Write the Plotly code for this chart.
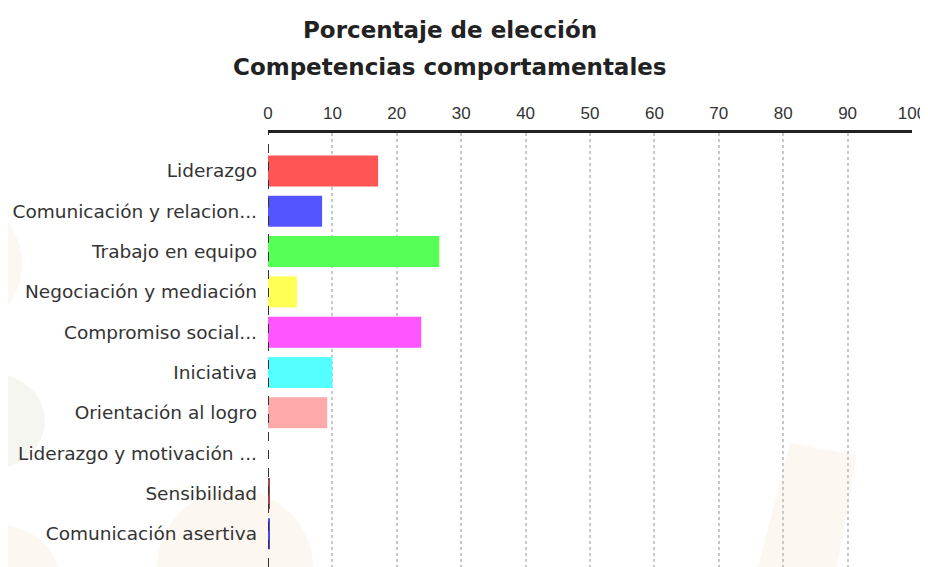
import plotly.graph_objects as go

categories = [
    "Liderazgo",
    "Comunicación y relacion...",
    "Trabajo en equipo",
    "Negociación y mediación",
    "Compromiso social...",
    "Iniciativa",
    "Orientación al logro",
    "Liderazgo y motivación ...",
    "Sensibilidad",
    "Comunicación asertiva",
]
values = [17.1, 8.4, 26.6, 4.5, 23.8, 10.0, 9.2, 0.0, 0.25, 0.3]
colors = ["#FF5555", "#5555FF", "#55FF55", "#FFFF55", "#FF55FF",
          "#55FFFF", "#FFAAAA", "#AAAAAA", "#A04848", "#4848F0"]
x_ticks = list(range(0, 101, 10))
title_lines = ["Porcentaje de elección", "Competencias comportamentales"]

# the page body has an 8px margin, so the figure starts at (8, 8)
OFF = 8
W, H = 920, 559
PL, PR, PT = 268, 912, 133               # plot area in window pixels
PB = OFF + H
ML, MR, MT, MB = PL - OFF, OFF + W - PR, PT - OFF, 0
PW, PH = PR - PL, PB - PT
BAND = 40.3                              # pixels per category
FIRST = 171                              # centre of first category (px)
y_top = -(FIRST - PT) / BAND
y_bot = (PB - FIRST) / BAND


def px(x):
    return (x - PL) / PW


def py(y):
    return (PB - y) / PH


fig = go.Figure(go.Bar(
    x=values, y=categories, orientation="h",
    marker=dict(color=colors, line=dict(width=0)),
    width=0.77,
))

beige = "rgba(250,232,214,0.35)"
greenish = "rgba(228,230,214,0.35)"
shapes = [
    dict(type="circle", xref="paper", yref="paper",
         x0=px(-110), x1=px(22), y0=py(332), y1=py(196),
         fillcolor=beige, line=dict(width=0), layer="below"),
    dict(type="circle", xref="paper", yref="paper",
         x0=px(-70), x1=px(45), y0=py(470), y1=py(372),
         fillcolor=greenish, line=dict(width=0), layer="below"),
    dict(type="circle", xref="paper", yref="paper",
         x0=px(157), x1=px(313), y0=py(646), y1=py(490),
         fillcolor=beige, line=dict(width=0), layer="below"),
    dict(type="circle", xref="paper", yref="paper",
         x0=px(-60), x1=px(60), y0=py(640), y1=py(525),
         fillcolor=beige, line=dict(width=0), layer="below"),
    dict(type="path", xref="paper", yref="paper",
         path=f"M {px(790)} {py(443)} L {px(857)} {py(455)} "
              f"L {px(837)} {py(567)} L {px(758)} {py(567)} Z",
         fillcolor=beige, line=dict(width=0), layer="below"),
    # dashed zero line on the left
    dict(type="line", xref="x", yref="paper", x0=0, x1=0, y0=0, y1=1,
         line=dict(color="#333333", width=2, dash="dash"), layer="above"),
]

annotations = [
    dict(text=title_lines[0], xref="paper", yref="paper",
         x=px(450), y=py(30), xanchor="center", yanchor="middle",
         showarrow=False,
         font=dict(family="DejaVu Sans", size=23, color="#222222", weight="bold")),
    dict(text=title_lines[1], xref="paper", yref="paper",
         x=px(450), y=py(67), xanchor="center", yanchor="middle",
         showarrow=False,
         font=dict(family="DejaVu Sans", size=23, color="#222222", weight="bold")),
]

fig.update_layout(
    width=W, height=H,
    margin=dict(l=ML, r=MR, t=MT, b=MB, autoexpand=False),
    paper_bgcolor="white",
    plot_bgcolor="rgba(0,0,0,0)",
    showlegend=False,
    shapes=shapes,
    annotations=annotations,
    xaxis=dict(
        side="top", range=[0, 100], tickvals=x_ticks,
        automargin=False,
        showline=True, linecolor="#222222", linewidth=3,
        showgrid=True, gridcolor="#C8C8C8", griddash="dot", gridwidth=1.5,
        zeroline=False, ticks="",
        ticklabelstandoff=4,
        tickfont=dict(family="Liberation Sans", size=17, color="#333333"),
    ),
    yaxis=dict(
        type="category", categoryorder="array", categoryarray=categories,
        range=[y_bot, y_top], automargin=False,
        showline=False, showgrid=False, zeroline=False, ticks="",
        ticklabelstandoff=10,
        tickfont=dict(family="DejaVu Sans", size=18.5, color="#333333"),
    ),
)

fig.write_html("out.html")
